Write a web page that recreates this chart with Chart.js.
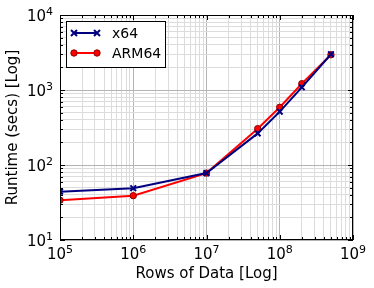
<!DOCTYPE html>
<html>
<head>
<meta charset="utf-8">
<script src="https://cdn.jsdelivr.net/npm/chart.js@4"></script>
<style>
  html, body { margin: 0; padding: 0; background: #fff; }
  #wrap { width: 374px; height: 288px; }
</style>
</head>
<body>
<div id="wrap"><canvas id="chart" width="374" height="288"></canvas></div>
<script>
// data
const rowCounts = [1e5, 1e6, 1e7, 5e7, 1e8, 2e8, 5e8];
const x64Runtime = [44, 49, 78, 264, 514, 1086, 3000];
const arm64Runtime = [34, 39, 78, 305, 588, 1213, 2950];
const seriesNames = ["x64", "ARM64"];
const xRange = [1e5, 1e9];
const yRange = [1e1, 1e4];

const FONT = "'DejaVu Sans', sans-serif";

function isMajor(v) {
  const e = Math.log10(v);
  return Math.abs(e - Math.round(e)) < 1e-9;
}

// majors plus 2..9 minors inside each decade
function logTicks(min, max) {
  const out = [];
  for (let e = Math.round(Math.log10(min)); e <= Math.round(Math.log10(max)); e++) {
    const base = Math.pow(10, e);
    out.push({ value: base });
    if (base >= max) break;
    for (let m = 2; m <= 9; m++) out.push({ value: m * base });
  }
  return out;
}

const toPoints = (ys) => rowCounts.map((x, i) => ({ x: x, y: ys[i] }));

// draws "10" with a raised exponent, anchored by the given alignment
function drawPow(ctx, exp, x, baseline, align) {
  ctx.font = "15px " + FONT;
  const wb = ctx.measureText("10").width;
  ctx.font = "11px " + FONT;
  const we = ctx.measureText(String(exp)).width;
  let start = align === "center" ? x - (wb + we) / 2 : x - wb - we;
  ctx.textAlign = "left";
  ctx.textBaseline = "alphabetic";
  ctx.font = "15px " + FONT;
  ctx.fillText("10", start, baseline);
  ctx.font = "11px " + FONT;
  ctx.fillText(String(exp), start + wb, baseline - 6);
}

// inside tick marks, frame, tick labels and legend box, matplotlib-style
const framePlugin = {
  id: "frame",
  afterDraw(chart) {
    const { ctx, chartArea: a, scales } = chart;
    ctx.save();
    ctx.strokeStyle = "#000";
    ctx.lineWidth = 1;
    scales.x.ticks.forEach(t => {
      const px = Math.round(scales.x.getPixelForValue(t.value)) + 0.5;
      const len = isMajor(t.value) ? 5 : 3;
      ctx.beginPath();
      ctx.moveTo(px, a.bottom); ctx.lineTo(px, a.bottom - len);
      ctx.moveTo(px, a.top); ctx.lineTo(px, a.top + len);
      ctx.stroke();
    });
    scales.y.ticks.forEach(t => {
      const py = Math.round(scales.y.getPixelForValue(t.value)) + 0.5;
      const len = isMajor(t.value) ? 5 : 3;
      ctx.beginPath();
      ctx.moveTo(a.left, py); ctx.lineTo(a.left + len, py);
      ctx.moveTo(a.right, py); ctx.lineTo(a.right - len, py);
      ctx.stroke();
    });
    ctx.strokeRect(a.left + 0.5, a.top + 0.5, a.right - a.left - 1, a.bottom - a.top - 1);

    // tick labels
    ctx.fillStyle = "#000";
    scales.x.ticks.filter(t => isMajor(t.value)).forEach(t => {
      const px = scales.x.getPixelForValue(t.value);
      drawPow(ctx, Math.round(Math.log10(t.value)), px, a.bottom + 19, "center");
    });
    scales.y.ticks.filter(t => isMajor(t.value)).forEach(t => {
      const py = scales.y.getPixelForValue(t.value);
      drawPow(ctx, Math.round(Math.log10(t.value)), a.left - 7, py + 5.5, "right");
    });

    // legend
    const bx = 66, by = 21, bw = 99, bh = 46;
    ctx.fillStyle = "#fff";
    ctx.fillRect(bx, by, bw, bh);
    ctx.strokeStyle = "#000";
    ctx.strokeRect(bx + 0.5, by + 0.5, bw, bh);
    const rows = [
      { y: 33, color: "#000080", marker: "x" },
      { y: 53, color: "#ff0000", marker: "o" }
    ];
    rows.forEach((r, i) => {
      ctx.strokeStyle = r.color;
      ctx.lineWidth = 2;
      ctx.beginPath();
      ctx.moveTo(74, r.y); ctx.lineTo(97, r.y);
      ctx.stroke();
      [74, 97].forEach(mx => {
        if (r.marker === "x") {
          ctx.beginPath();
          ctx.moveTo(mx - 3, r.y - 3); ctx.lineTo(mx + 3, r.y + 3);
          ctx.moveTo(mx - 3, r.y + 3); ctx.lineTo(mx + 3, r.y - 3);
          ctx.stroke();
        } else {
          ctx.fillStyle = r.color;
          ctx.lineWidth = 1;
          ctx.beginPath();
          ctx.arc(mx, r.y, 3.2, 0, Math.PI * 2);
          ctx.fill();
          ctx.strokeStyle = "#8b0000";
          ctx.stroke();
        }
      });
      ctx.fillStyle = "#000";
      ctx.font = "14px " + FONT;
      ctx.textBaseline = "middle";
      ctx.textAlign = "left";
      ctx.fillText(seriesNames[i], 112, r.y + 1);
    });
    ctx.restore();
  }
};

new Chart(document.getElementById("chart"), {
  type: "line",
  data: {
    datasets: [
      {
        label: seriesNames[0],
        data: toPoints(x64Runtime),
        borderColor: "#000080",
        backgroundColor: "#000080",
        borderWidth: 2,
        pointStyle: "crossRot",
        pointRadius: 4,
        pointBorderWidth: 2,
        tension: 0
      },
      {
        label: seriesNames[1],
        data: toPoints(arm64Runtime),
        borderColor: "#ff0000",
        backgroundColor: "#ff0000",
        borderWidth: 2,
        pointStyle: "circle",
        pointRadius: 3.2,
        pointBorderWidth: 1,
        pointBorderColor: "#8b0000",
        tension: 0
      }
    ]
  },
  options: {
    responsive: false,
    animation: false,
    layout: { padding: { top: 15, right: 21, left: 0, bottom: 0 } },
    plugins: {
      legend: { display: false },
      tooltip: { enabled: false }
    },
    scales: {
      x: {
        type: "logarithmic",
        min: xRange[0],
        max: xRange[1],
        afterBuildTicks: (s) => { s.ticks = logTicks(xRange[0], xRange[1]); },
        afterFit: (s) => { s.height = 48; },
        ticks: { display: false, autoSkip: false },
        grid: {
          drawTicks: false,
          color: (c) => isMajor(c.tick.value) ? "#b4b4b4" : "#dcdcdc",
          lineWidth: 1
        },
        border: { display: false },
        title: {
          display: true,
          text: "Rows of Data [Log]",
          color: "#000",
          font: { family: FONT, size: 15 },
          padding: { top: 0, bottom: 5 }
        }
      },
      y: {
        type: "logarithmic",
        min: yRange[0],
        max: yRange[1],
        afterBuildTicks: (s) => { s.ticks = logTicks(yRange[0], yRange[1]); },
        afterFit: (s) => { s.width = 60; },
        ticks: { display: false, autoSkip: false },
        grid: {
          drawTicks: false,
          color: (c) => isMajor(c.tick.value) ? "#b4b4b4" : "#dcdcdc",
          lineWidth: 1
        },
        border: { display: false },
        title: {
          display: true,
          text: "Runtime (secs) [Log]",
          color: "#000",
          font: { family: FONT, size: 15 },
          padding: { top: 4, bottom: 0 }
        }
      }
    }
  },
  plugins: [framePlugin]
});
</script>
</body>
</html>
